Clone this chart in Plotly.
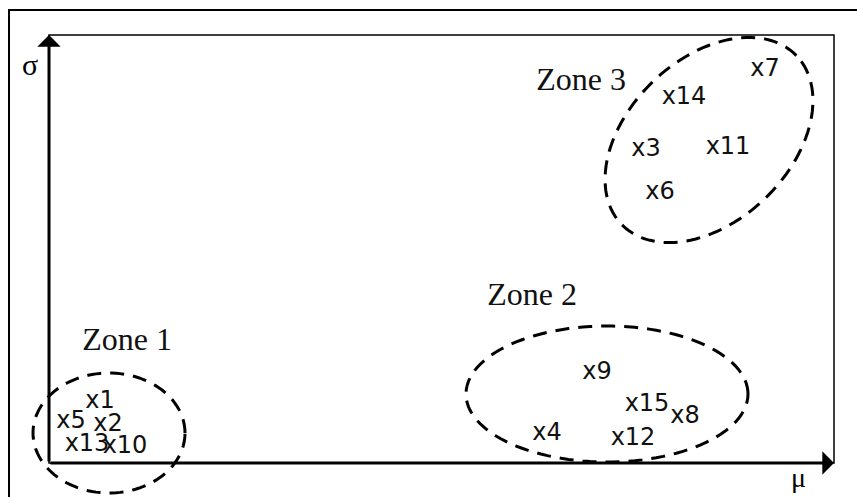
import numpy as np
import plotly.graph_objects as go

# point labels and their (mu, sigma) positions
names = ['x1', 'x2', 'x3', 'x4', 'x5', 'x6', 'x7', 'x8',
         'x9', 'x10', 'x11', 'x12', 'x13', 'x14', 'x15']
mu = [0.51, 0.59, 5.97, 4.98, 0.22, 6.11, 7.16, 6.36,
      5.48, 0.76, 6.79, 5.84, 0.38, 6.35, 5.98]
sigma = [0.61, 0.38, 3.13, 0.29, 0.41, 2.70, 3.93, 0.46,
         0.90, 0.16, 3.15, 0.24, 0.18, 3.65, 0.58]

# zones: label position and dashed ellipse
zone_names = ['Zone 1', 'Zone 2', 'Zone 3']
zone_lx = [0.78, 4.83, 5.32]
zone_ly = [1.21, 1.66, 3.81]
zone_cx = [0.60, 5.58, 6.60]
zone_cy = [0.30, 0.69, 3.23]
zone_rx = [0.76, 1.41, 1.215]
zone_ry = [0.60, 0.68, 0.81]
zone_tilt = [0, 0, 44]

mu_max, sigma_max = 7.85, 4.28


def ellipse_path(cx, cy, rx, ry, tilt):
    t = np.linspace(0, 2 * np.pi, 120)
    th = np.radians(tilt)
    x = cx + rx * np.cos(t) * np.cos(th) - ry * np.sin(t) * np.sin(th)
    y = cy + rx * np.cos(t) * np.sin(th) + ry * np.sin(t) * np.cos(th)
    pts = ['%.4f,%.4f' % (a, b) for a, b in zip(x, y)]
    return 'M' + ' L'.join(pts) + ' Z'


fig = go.Figure()

fig.add_trace(go.Scatter(
    x=mu, y=sigma, text=names, mode='text',
    textfont=dict(family='DejaVu Sans', size=24, color='#111'),
    hoverinfo='skip', showlegend=False))

fig.add_trace(go.Scatter(
    x=zone_lx, y=zone_ly, text=zone_names, mode='text',
    textfont=dict(family='Liberation Serif', size=32, color='#111'),
    hoverinfo='skip', showlegend=False))

shapes = []
# outer frame (runs off the right and bottom of the picture)
shapes.append(dict(type='rect', xref='x', yref='y', x0=-0.40, y0=-1.0,
                   x1=9.0, y1=4.53, line=dict(color='black', width=2)))
# inner box
shapes.append(dict(type='rect', xref='x', yref='y', x0=0, y0=0,
                   x1=mu_max, y1=sigma_max, line=dict(color='black', width=1.5)))
for i in range(3):
    shapes.append(dict(type='path', xref='x', yref='y',
                       path=ellipse_path(zone_cx[i], zone_cy[i], zone_rx[i],
                                         zone_ry[i], zone_tilt[i]),
                       line=dict(color='black', width=3, dash='14px,9px')))

annotations = [
    dict(x=mu_max, y=0, ax=0, ay=0, xref='x', yref='y', axref='x', ayref='y',
         showarrow=True, arrowhead=1, arrowsize=1.3, arrowwidth=3,
         arrowcolor='black', text=''),
    dict(x=0, y=sigma_max, ax=0, ay=0, xref='x', yref='y', axref='x', ayref='y',
         showarrow=True, arrowhead=1, arrowsize=1.3, arrowwidth=3,
         arrowcolor='black', text=''),
    dict(x=-0.19, y=3.99, xref='x', yref='y', text='σ', showarrow=False,
         font=dict(family='Liberation Serif', size=30, color='black')),
    dict(x=7.49, y=-0.14, xref='x', yref='y', text='μ', showarrow=False,
         font=dict(family='Liberation Serif', size=28, color='black')),
]

fig.update_layout(
    width=857, height=497, autosize=False,
    margin=dict(l=0, r=0, t=0, b=0),
    paper_bgcolor='white', plot_bgcolor='white',
    xaxis=dict(range=[-0.49, 8.08], visible=False, fixedrange=True),
    yaxis=dict(range=[-0.34, 4.63], visible=False, fixedrange=True),
    shapes=shapes, annotations=annotations,
)

fig.write_html('out.html', config={'displayModeBar': False},
               post_script="document.body.style.margin='0px';")
